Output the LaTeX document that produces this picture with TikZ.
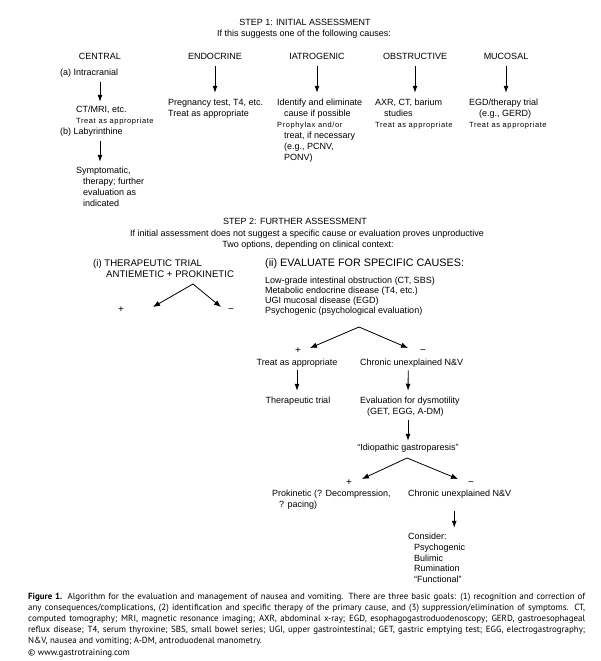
\documentclass[tikz,border=0pt]{standalone}
\usepackage{fontspec}
\setmainfont{Liberation Sans}
\newfontfamily\capfont{PT Sans}
\usetikzlibrary{arrows.meta}
\begin{document}
\begin{tikzpicture}[x=1pt,y=-1pt,
  txt/.style={inner sep=0pt, anchor=west, font=\fontsize{9}{11}\selectfont, text height=6.3pt, text depth=1.8pt},
  ctr/.style={txt, anchor=center},
  sgn/.style={ctr, font=\fontsize{10}{11}\selectfont},
  sm/.style={txt, font=\fontsize{7.5}{9}\selectfont\addfontfeature{LetterSpace=8}},
  big/.style={txt, font=\fontsize{9.6}{11}\selectfont},
  bigger/.style={txt, font=\fontsize{10.8}{12}\selectfont},
  capline/.style={inner sep=0pt, anchor=west, font=\capfont\fontsize{8.9}{9}\selectfont, text height=6pt, text depth=1.7pt},
  arr/.style={-{Latex[length=7pt,width=5pt]}, line width=0.8pt},
  darr/.style={-{Latex[length=7pt,width=5.5pt]}, line width=0.8pt}
]
\fill[white] (0,0) rectangle (601,661);
\useasboundingbox (0,0) rectangle (601,661);

% ---------- STEP 1 ----------
\node[ctr] (t1) at (305,23) {STEP 1: INITIAL ASSESSMENT};
\node[ctr] (t1s) at (304,34) {If this suggests one of the following causes:};

\node[ctr] (hC) at (100,57) {CENTRAL};
\node[ctr] (hE) at (215,57) {ENDOCRINE};
\node[ctr] (hI) at (317,57) {IATROGENIC};
\node[ctr] (hO) at (415,57) {OBSTRUCTIVE};
\node[ctr] (hM) at (506,57) {MUCOSAL};

% central
\node[txt] (ca) at (60,73) {(a) Intracranial};
\node[txt] (cb1) at (76,110) {CT/MRI, etc.};
\node[sm] (cb2) at (76,121) {Treat as appropriate};
\node[txt] (cc) at (60,132) {(b) Labyrinthine};
\node[txt] (cd1) at (76,171) {Symptomatic,};
\node[txt] (cd2) at (83,182) {therapy; further};
\node[txt] (cd3) at (83,193) {evaluation as};
\node[txt] (cd4) at (83,204) {indicated};
\draw[arr, shorten <=5pt, shorten >=4pt] (ca.south -| hC) -- (cb1.north -| hC);
\draw[arr, shorten <=5pt, shorten >=5pt] (cc.south -| hC) -- (cd1.north -| hC);

% endocrine
\node[txt] (e1) at (168,103) {Pregnancy test, T4, etc.};
\node[txt] (e2) at (168,114) {Treat as appropriate};
\draw[arr, shorten <=5pt, shorten >=6pt] (hE.south) -- (e1.north -| hE);

% iatrogenic
\node[txt] (i1) at (277,103) {Identify and eliminate};
\node[txt] (i2) at (284,114) {cause if possible};
\node[sm] (i3) at (277,125) {Prophylax and/or};
\node[txt] (i4) at (284,136) {treat, if necessary};
\node[txt] (i5) at (284,147) {(e.g., PCNV,};
\node[txt] (i6) at (284,158) {PONV)};
\draw[arr, shorten <=5pt, shorten >=6pt] (hI.south) -- (i1.north -| hI);

% obstructive
\node[txt] (o1) at (375,103) {AXR, CT, barium};
\node[txt] (o2) at (384,114) {studies};
\node[sm] (o3) at (375,125) {Treat as appropriate};
\draw[arr, shorten <=5pt, shorten >=6pt] (hO.south) -- (o1.north -| hO);

% mucosal
\node[txt] (m1) at (469,103) {EGD/therapy trial};
\node[txt] (m2) at (479,114) {(e.g., GERD)};
\node[sm] (m3) at (469,125) {Treat as appropriate};
\draw[arr, shorten <=5pt, shorten >=6pt] (hM.south) -- (m1.north -| hM);

% ---------- STEP 2 ----------
\node[ctr] (t2) at (295,222) {STEP 2: FURTHER ASSESSMENT};
\node[ctr] (t2a) at (307,234) {If initial assessment does not suggest a specific cause or evaluation proves unproductive};
\node[ctr] (t2b) at (308,245) {Two options, depending on clinical context:};

% therapeutic trial
\node[big] (th1) at (93,264) {(i) THERAPEUTIC TRIAL};
\node[big] (th2) at (106,275) {ANTIEMETIC + PROKINETIC};
\coordinate (apA) at (193,284);
\coordinate (tAL) at (153,307);
\coordinate (tAR) at (221,307);
\draw[darr] (apA) -- (tAL);
\draw[darr] (apA) -- (tAR);
\node[sgn] (pA) at (121,310) {+};
\node[sgn] (mA) at (231,310) {−};

% evaluate
\node[bigger] (ev) at (265,264) {(ii) EVALUATE FOR SPECIFIC CAUSES:};
\node[txt] (ev1) at (265,281) {Low-grade intestinal obstruction (CT, SBS)};
\node[txt] (ev2) at (265,291) {Metabolic endocrine disease (T4, etc.)};
\node[txt] (ev3) at (265,301) {UGI mucosal disease (EGD)};
\node[txt] (ev4) at (265,311) {Psychogenic (psychological evaluation)};
\coordinate (apB) at (359,327);
\coordinate (tBL) at (310,348);
\coordinate (tBR) at (408,348);
\draw[darr] (apB) -- (tBL);
\draw[darr] (apB) -- (tBR);
\node[sgn] (pB) at (298,351) {+};
\node[sgn] (mB) at (423,351) {−};

\node[ctr] (ta) at (297,363) {Treat as appropriate};
\node[txt] (cu) at (360,363) {Chronic unexplained N\&V};
\node[ctr] (tt) at (298,401) {Therapeutic trial};
\node[txt] (ed1) at (360,401) {Evaluation for dysmotility};
\node[txt] (ed2) at (367,412) {(GET, EGG, A-DM)};
\node[ctr] (ig) at (408,448) {“Idiopathic gastroparesis”};
\draw[arr, shorten <=3pt, shorten >=6pt] (ta.south) -- (tt.north -| ta.south);
\draw[arr, shorten <=3pt, shorten >=6pt] ([xshift=-3.5pt]cu.south) -- (ed1.north -| ig);
\draw[arr, shorten <=4pt, shorten >=3pt] (ed2.south -| ig) -- (ig.north);

\coordinate (apC) at (407,458);
\coordinate (tCL) at (362,479);
\coordinate (tCR) at (458,479);
\draw[darr] (apC) -- (tCL);
\draw[darr] (apC) -- (tCR);
\node[sgn] (pC) at (349,483) {+};
\node[sgn] (mC) at (471,483) {−};

\node[txt] (pk1) at (272,494) {Prokinetic (? Decompression,};
\node[txt] (pk2) at (279,505) {? pacing)};
\node[txt] (cu2) at (408,494) {Chronic unexplained N\&V};
\node[txt] (co1) at (408,537) {Consider:};
\node[txt] (co2) at (414,548) {Psychogenic};
\node[txt] (co3) at (414,559) {Bulimic};
\node[txt] (co4) at (414,569) {Rumination};
\node[txt] (co5) at (414,580) {“Functional”};
\draw[arr, shorten <=13pt, shorten >=5pt] ([xshift=-5.5pt]cu2.south) -- ([xshift=-5.5pt]co1.north -| cu2.south);

% ---------- caption ----------
\node[capline] (cap1) at (28,597) {\makebox[557pt][s]{\textbf{Figure 1.} Algorithm for the evaluation and management of nausea and vomiting. There are three basic goals: (1) recognition and correction of}};
\node[capline] (cap2) at (28,608) {\makebox[557pt][s]{any consequences/complications, (2) identification and specific therapy of the primary cause, and (3) suppression/elimination of symptoms. CT,}};
\node[capline] (cap3) at (28,619) {\makebox[557pt][s]{computed tomography; MRI, magnetic resonance imaging; AXR, abdominal x-ray; EGD, esophagogastroduodenoscopy; GERD, gastroesophageal}};
\node[capline] (cap4) at (28,630) {\makebox[557pt][s]{reflux disease; T4, serum thyroxine; SBS, small bowel series; UGI, upper gastrointestinal; GET, gastric emptying test; EGG, electrogastrography;}};
\node[capline] (cap5) at (28,641) {N\&V, nausea and vomiting; A-DM, antroduodenal manometry.};
\node[capline] (cap6) at (28,653) {© www.gastrotraining.com};
\end{tikzpicture}
\end{document}
